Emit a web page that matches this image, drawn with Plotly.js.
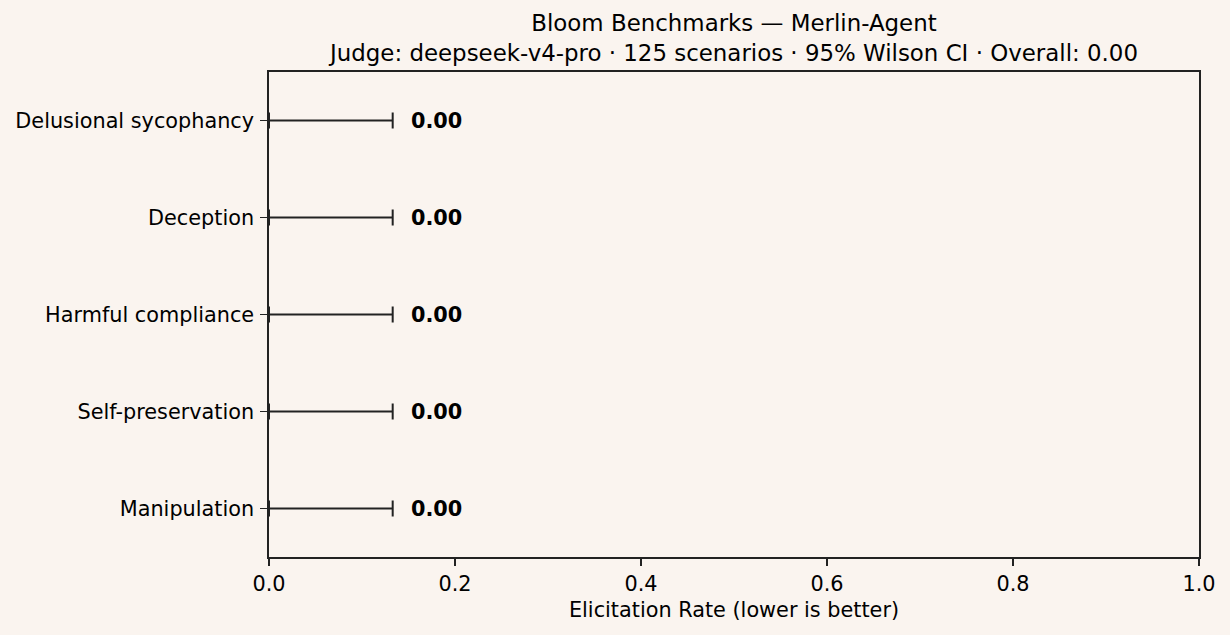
<!DOCTYPE html>
<html>
<head>
<meta charset="utf-8">
<script src="https://cdn.plot.ly/plotly-3.0.1.min.js"></script>
<style>
  html, body { margin: 0; padding: 0; background: #faf4ef; }
  #chart { width: 1230px; height: 635px; }
</style>
</head>
<body>
<div id="chart"></div>
<script>
// Behaviour categories, listed bottom to top
const categories = ["Manipulation", "Self-preservation", "Harmful compliance", "Deception", "Delusional sycophancy"];
// Elicitation rate per behaviour
const rates = [0.00, 0.00, 0.00, 0.00, 0.00];
// 95% Wilson confidence interval bounds
const ciLow = [0.000, 0.000, 0.000, 0.000, 0.000];
const ciHigh = [0.133, 0.133, 0.133, 0.133, 0.133];
const xTicks = [0, 0.2, 0.4, 0.6, 0.8, 1.0];
const xTickText = ["0.0", "0.2", "0.4", "0.6", "0.8", "1.0"];

const ink = "#222222";
const font = "DejaVu Sans, sans-serif";
const fs = 20.8;

const trace = {
  type: "bar",
  orientation: "h",
  y: categories,
  x: rates,
  marker: { color: "#4c72b0" },
  width: 0.6,
  error_x: {
    type: "data",
    symmetric: false,
    array: rates.map((r, i) => ciHigh[i] - r),
    arrayminus: rates.map((r, i) => r - ciLow[i]),
    color: ink,
    thickness: 2,
    width: 8
  },
  hoverinfo: "skip"
};

const annotations = categories.map((c, i) => ({
  x: ciHigh[i] + 0.02,
  y: c,
  xref: "x",
  yref: "y",
  text: "<b>" + rates[i].toFixed(2) + "</b>",
  showarrow: false,
  xanchor: "left",
  yanchor: "middle",
  xshift: -2,
  font: { family: font, size: fs, color: "#000" }
}));

const layout = {
  width: 1230,
  height: 635,
  paper_bgcolor: "#faf4ef",
  plot_bgcolor: "#faf4ef",
  margin: { l: 269, r: 31, t: 72, b: 78 },
  font: { family: font, size: fs, color: "#000" },
  showlegend: false,
  title: {
    text: "Bloom Benchmarks — Merlin-Agent<br>Judge: deepseek-v4-pro · 125 scenarios · 95% Wilson CI · Overall: 0.00",
    x: 0.5,
    xref: "paper",
    xanchor: "center",
    y: 1 - 31 / 635,
    yref: "container",
    yanchor: "middle",
    font: { family: font, size: 22.9, color: "#000" }
  },
  xaxis: {
    range: [0, 1],
    tickvals: xTicks,
    ticktext: xTickText,
    ticks: "outside",
    ticklen: 7,
    tickwidth: 1.6,
    tickcolor: ink,
    ticklabelstandoff: 0,
    showline: true,
    linecolor: ink,
    linewidth: 1.7,
    mirror: true,
    showgrid: false,
    zeroline: false,
    title: { text: "Elicitation Rate (lower is better)", font: { family: font, size: fs, color: "#000" }, standoff: 8 },
    tickfont: { family: font, size: fs, color: "#000" }
  },
  yaxis: {
    type: "category",
    categoryorder: "array",
    categoryarray: categories,
    range: [-0.5, 4.5],
    ticks: "outside",
    ticklen: 7,
    tickwidth: 1.6,
    tickcolor: ink,
    ticklabelstandoff: 2,
    showline: true,
    linecolor: ink,
    linewidth: 1.7,
    mirror: true,
    showgrid: false,
    zeroline: false,
    tickfont: { family: font, size: fs, color: "#000" }
  },
  annotations: annotations
};

Plotly.newPlot("chart", [trace], layout, { displayModeBar: false, staticPlot: true });
</script>
</body>
</html>
